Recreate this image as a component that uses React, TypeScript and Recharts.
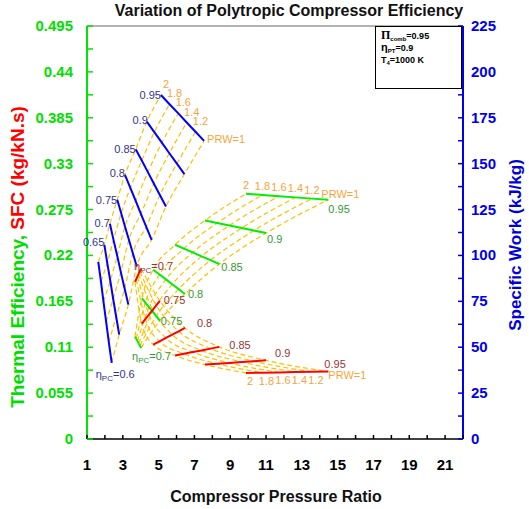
import { LineChart, Line, XAxis, YAxis, ReferenceLine } from 'recharts'

const FONT = '"Liberation Sans", Arial, Helvetica, sans-serif'

// power-ratio levels, listed in the order each eta line is traced
const prwLevels = [2, 1.8, 1.6, 1.4, 1.2, 1]

// specific work carpet (right axis)
const workEta = [0.6, 0.65, 0.7, 0.75, 0.8, 0.85, 0.9, 0.95]
const workRatio = [
  [1.63, 1.78, 1.92, 2.07, 2.22, 2.38],
  [1.97, 2.13, 2.3, 2.46, 2.63, 2.8],
  [2.28, 2.48, 2.69, 2.89, 3.1, 3.31],
  [2.69, 2.91, 3.12, 3.34, 3.56, 3.78],
  [3.12, 3.42, 3.72, 4.01, 4.31, 4.61],
  [3.72, 4.06, 4.4, 4.73, 5.07, 5.41],
  [4.34, 4.76, 5.18, 5.6, 6.02, 6.44],
  [5.13, 5.61, 6.1, 6.57, 7.06, 7.54],
]
const workValue = [
  [96.5, 85.8, 74.8, 63.8, 52.6, 41.5],
  [105.8, 96.0, 86.2, 76.4, 66.6, 56.9],
  [117.3, 108.5, 99.7, 90.9, 82.0, 73.2],
  [130.3, 123.0, 115.8, 108.5, 101.2, 94.0],
  [143.9, 136.8, 129.7, 122.7, 115.6, 108.5],
  [157.9, 151.7, 145.4, 139.2, 132.9, 126.7],
  [172.9, 167.2, 161.5, 155.7, 150.0, 144.3],
  [187.4, 182.4, 177.4, 172.4, 167.4, 162.4],
]

// thermal efficiency and SFC carpets share the same cycle pressure ratios
const cycleEta = [0.7, 0.75, 0.8, 0.85, 0.9, 0.95]
const cycleRatio = [
  [3.68, 3.75, 3.82, 3.88, 3.95, 4.02],
  [4.06, 4.26, 4.46, 4.67, 4.87, 5.07],
  [4.7, 5.05, 5.41, 5.76, 6.12, 6.47],
  [5.92, 6.41, 6.91, 7.4, 7.9, 8.39],
  [7.59, 8.27, 8.95, 9.64, 10.32, 11.0],
  [9.88, 10.8, 11.72, 12.64, 13.56, 14.48],
]
const effValue = [
  [0.1227, 0.12, 0.1173, 0.1146, 0.1119, 0.1092],
  [0.1688, 0.1634, 0.1581, 0.1527, 0.1474, 0.142],
  [0.2029, 0.1971, 0.1913, 0.1854, 0.1796, 0.1738],
  [0.2328, 0.2282, 0.2236, 0.2189, 0.2143, 0.2097],
  [0.2619, 0.2589, 0.2559, 0.2528, 0.2498, 0.2468],
  [0.2939, 0.2925, 0.291, 0.2896, 0.2881, 0.2867],
]
const sfcValue = [
  [0.1885, 0.1916, 0.1947, 0.1979, 0.201, 0.2041],
  [0.1383, 0.1438, 0.1492, 0.1547, 0.1601, 0.1656],
  [0.1131, 0.1171, 0.1211, 0.1251, 0.1291, 0.1331],
  [0.1, 0.1021, 0.1042, 0.1062, 0.1083, 0.1104],
  [0.0892, 0.0902, 0.0912, 0.0923, 0.0933, 0.0943],
  [0.0792, 0.0795, 0.0798, 0.0802, 0.0805, 0.0808],
]

const leftTicks = [0, 0.055, 0.11, 0.165, 0.22, 0.275, 0.33, 0.385, 0.44, 0.495]
const rightTicks = [0, 25, 50, 75, 100, 125, 150, 175, 200, 225]
const prTicks = [1, 3, 5, 7, 9, 11, 13, 15, 17, 19, 21]

const withMinor = (major: number[]) =>
  major.flatMap((v, i) => (i === 0 ? [v] : [(major[i - 1] + v) / 2, v]))
const isMajor = (list: number[], v: number) => list.some((t) => Math.abs(t - v) < 1e-9)

type Pt = { x: number; y: number }

type Family = {
  name: string
  axis: 'left' | 'right'
  eta: number[]
  ratio: number[][]
  value: number[][]
  stroke: string
  textColor: string
  etaIndex: number // point that carries the eta label
  etaAnchor: 'start' | 'end'
  etaDx: number[]
  etaDy: number[]
  prwDx: number
  prwDy: number
  prwOneDx: number
  prwOneDy: number
}

const families: Family[] = [
  {
    name: 'work',
    axis: 'right',
    eta: workEta,
    ratio: workRatio,
    value: workValue,
    stroke: '#0000ff',
    textColor: '#34348c',
    etaIndex: 0,
    etaAnchor: 'end',
    etaDx: [-16, 0, 0, 0, 0, 0, 1, 0],
    etaDy: [15, 1, 3, 4, 2, 4, 2, 4],
    prwDx: 5,
    prwDy: -7,
    prwOneDx: 3,
    prwOneDy: 2,
  },
  {
    name: 'eff',
    axis: 'left',
    eta: cycleEta,
    ratio: cycleRatio,
    value: effValue,
    stroke: '#00ee00',
    textColor: '#339933',
    etaIndex: 5,
    etaAnchor: 'start',
    etaDx: [-9, 1, 3, 2, 1, 0],
    etaDy: [12, 4, 4, 7, 10, 13],
    prwDx: 0,
    prwDy: -5,
    prwOneDx: -7,
    prwOneDy: -2,
  },
  {
    name: 'sfc',
    axis: 'left',
    eta: cycleEta,
    ratio: cycleRatio,
    value: sfcValue,
    stroke: '#ff0000',
    textColor: '#993333',
    etaIndex: 5,
    etaAnchor: 'start',
    etaDx: [-7, 4, 12, 10, 9, -4],
    etaDy: [1, 3, -1, 2, -3, -4],
    prwDx: 4,
    prwDy: 12,
    prwOneDx: 0,
    prwOneDy: 7,
  },
]

const etaLines = (f: Family): Pt[][] =>
  f.eta.map((_, i) => f.ratio[i].map((x, j) => ({ x, y: f.value[i][j] })))

const prwLines = (f: Family): Pt[][] =>
  prwLevels.map((_, j) => f.eta.map((_, i) => ({ x: f.ratio[i][j], y: f.value[i][j] })))

const etaCaption = (eta: number, lowest: boolean) =>
  lowest ? (
    <>
      <tspan>η</tspan>
      <tspan fontSize={8} dy={3}>PC</tspan>
      <tspan dy={-3}>={eta}</tspan>
    </>
  ) : (
    String(eta)
  )

const makeLabel = (f: Family, i: number) => (props: any) => {
  const x = props.x ?? props.viewBox?.x
  const y = props.y ?? props.viewBox?.y
  const j = props.index
  const lowest = i === 0
  const top = i === f.eta.length - 1
  const atEta = lowest ? j === 5 : j === f.etaIndex
  return (
    <g>
      {atEta && (
        <text
          x={x + f.etaDx[i]}
          y={y + f.etaDy[i]}
          textAnchor={lowest ? 'start' : f.etaAnchor}
          fill={f.textColor}
          fontSize={11}
          fontFamily={FONT}
        >
          {etaCaption(f.eta[i], lowest)}
        </text>
      )}
      {top && (
        <text
          x={x + (j === 5 ? f.prwOneDx : f.prwDx)}
          y={y + (j === 5 ? f.prwOneDy : f.prwDy)}
          textAnchor={j === 5 ? 'start' : 'middle'}
          fill="#f7a43a"
          fontSize={11}
          fontFamily={FONT}
        >
          {j === 5 ? `PRW=${prwLevels[j]}` : prwLevels[j]}
        </text>
      )}
    </g>
  )
}

const LeftTick = (props: any) => {
  const { x, y, payload } = props
  return (
    <g>
      <line x1={x} y1={y} x2={x + 6} y2={y} stroke="#00e600" strokeWidth={1.5} />
      {isMajor(leftTicks, payload.value) && (
        <text x={x - 14} y={y + 5} textAnchor="end" fill="#00e000" fontSize={15} fontWeight="bold" fontFamily={FONT}>
          {payload.value}
        </text>
      )}
    </g>
  )
}

const RightTick = (props: any) => {
  const { x, y, payload } = props
  return (
    <g>
      <line x1={x} y1={y} x2={x - 5} y2={y} stroke="#0000ee" strokeWidth={1.5} />
      {isMajor(rightTicks, payload.value) && (
        <text x={x + 8} y={y + 5} textAnchor="start" fill="#0000ee" fontSize={15} fontWeight="bold" fontFamily={FONT}>
          {payload.value}
        </text>
      )}
    </g>
  )
}

const BottomTick = (props: any) => {
  const { x, y, payload } = props
  return (
    <g>
      <line x1={x} y1={y} x2={x} y2={y - 4} stroke="#000" strokeWidth={1.5} />
      {isMajor(prTicks, payload.value) && (
        <text x={x} y={y + 31} textAnchor="middle" fill="#000" fontSize={15} fontWeight="bold" fontFamily={FONT}>
          {payload.value}
        </text>
      )}
    </g>
  )
}

export default function App() {
  const xTicks = [...withMinor(prTicks), 22]
  return (
    <div style={{ position: 'absolute', left: 0, top: 0, width: 529, height: 509, background: '#fff' }}>
      <LineChart width={529} height={509} margin={{ top: 26, right: 16, bottom: 30, left: 27 }}>
        <XAxis
          type="number"
          dataKey="x"
          domain={[1, 22]}
          ticks={xTicks}
          interval={0}
          tickSize={0}
          tickMargin={0}
          tick={<BottomTick />}
          axisLine={{ stroke: '#000', strokeWidth: 1.5 }}
          tickLine={false}
          height={40}
          allowDataOverflow
          label={{
            content: () => (
              <text x={276} y={502} textAnchor="middle" fontSize={16} fontWeight="bold" fontFamily={FONT} fill="#111">
                Compressor Pressure Ratio
              </text>
            ),
          }}
        />
        <YAxis
          yAxisId="left"
          orientation="left"
          type="number"
          domain={[0, 0.495]}
          ticks={withMinor(leftTicks)}
          interval={0}
          tickSize={0}
          tickMargin={0}
          tick={<LeftTick />}
          tickLine={false}
          axisLine={{ stroke: '#00e600', strokeWidth: 2 }}
          width={60}
          allowDataOverflow
          label={{
            content: () => (
              <text
                transform="translate(24,257) rotate(-90)"
                textAnchor="middle"
                fontSize={19}
                fontWeight="bold"
                fontFamily={FONT}
              >
                <tspan fill="#00dd00">Thermal Efficiency, </tspan>
                <tspan fill="#ff0000">SFC (kg/kN.s)</tspan>
              </text>
            ),
          }}
        />
        <YAxis
          yAxisId="right"
          orientation="right"
          type="number"
          domain={[0, 225]}
          ticks={withMinor(rightTicks)}
          interval={0}
          tickSize={0}
          tickMargin={0}
          tick={<RightTick />}
          tickLine={false}
          axisLine={{ stroke: '#0000ee', strokeWidth: 2 }}
          width={50}
          allowDataOverflow
          label={{
            content: () => (
              <text
                transform="translate(521,245) rotate(-90)"
                textAnchor="middle"
                fontSize={17}
                fontWeight="bold"
                fontFamily={FONT}
                fill="#0000dd"
              >
                Specific Work (kJ/kg)
              </text>
            ),
          }}
        />
        <ReferenceLine yAxisId="left" y={0.495} stroke="#9a9a9a" strokeWidth={1.5} />

        {families.flatMap((f) =>
          prwLines(f).map((pts, j) => (
            <Line
              key={`${f.name}-prw-${j}`}
              data={pts}
              dataKey="y"
              yAxisId={f.axis}
              type="monotone"
              stroke="#ffc000"
              strokeWidth={1.2}
              strokeDasharray="5 3"
              dot={false}
              activeDot={false}
              isAnimationActive={false}
            />
          ))
        )}

        {families.flatMap((f) =>
          etaLines(f).map((pts, i) => (
            <Line
              key={`${f.name}-eta-${i}`}
              data={pts}
              dataKey="y"
              yAxisId={f.axis}
              type="linear"
              stroke={f.stroke}
              strokeWidth={2}
              dot={false}
              activeDot={false}
              isAnimationActive={false}
              label={makeLabel(f, i)}
            />
          ))
        )}
      </LineChart>

      <svg
        width={529}
        height={509}
        style={{ position: 'absolute', left: 0, top: 0, pointerEvents: 'none' }}
      >
        <text x={289} y={16} textAnchor="middle" fontSize={16} fontWeight="bold" fontFamily={FONT} fill="#111">
          Variation of Polytropic Compressor Efficiency
        </text>
        <rect x={375.5} y={26.5} width={86} height={62} fill="#fff" stroke="#000" strokeWidth={1} />
        <g fontFamily={FONT} fontWeight="bold" fontSize={9} fill="#000">
          <text x={381} y={39}>
            <tspan fontSize={12} fontFamily="'Liberation Serif', serif">Π</tspan>
            <tspan fontSize={6} dy={2}>comb</tspan>
            <tspan dy={-2}>=0.95</tspan>
          </text>
          <text x={381} y={51}>
            <tspan fontSize={11}>η</tspan>
            <tspan fontSize={6} dy={2}>PT</tspan>
            <tspan dy={-2}>=0.9</tspan>
          </text>
          <text x={381} y={63}>
            <tspan>T</tspan>
            <tspan fontSize={6} dy={2}>4</tspan>
            <tspan dy={-2}>=1000 K</tspan>
          </text>
        </g>
      </svg>
    </div>
  )
}
